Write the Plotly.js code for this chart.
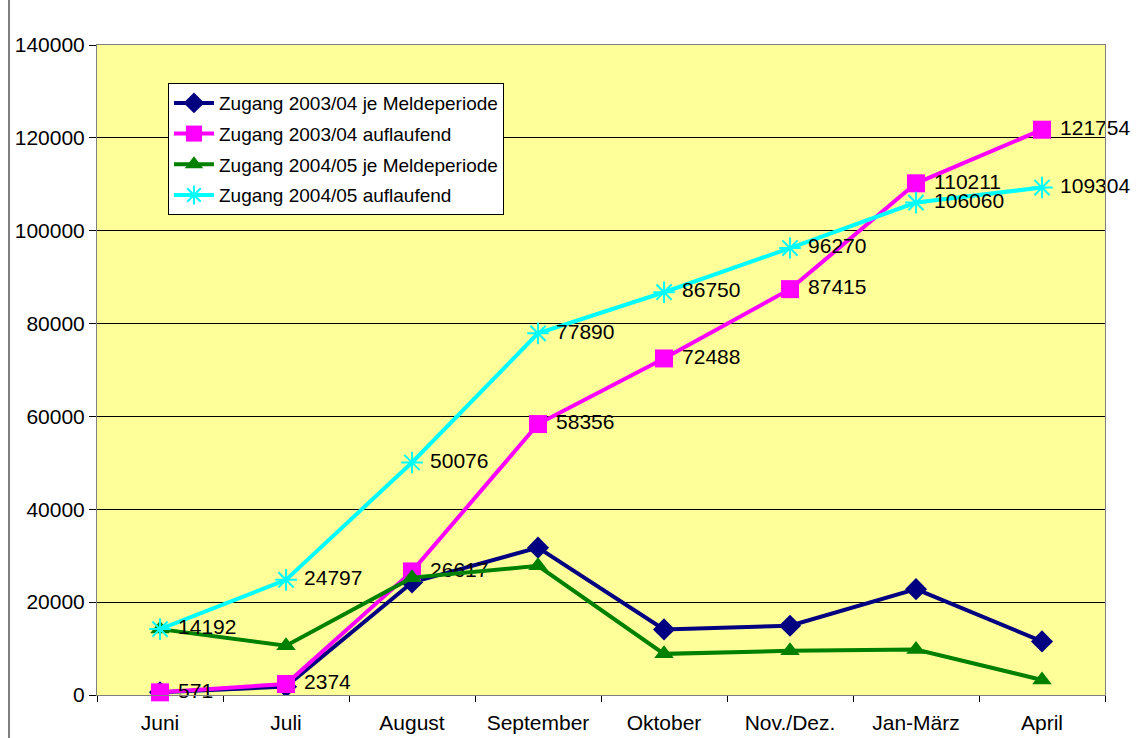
<!DOCTYPE html>
<html>
<head>
<meta charset="utf-8">
<script src="https://cdn.plot.ly/plotly-3.0.1.min.js"></script>
<style>
html,body{margin:0;padding:0;background:#fff;}
#chart{width:1145px;height:738px;}
</style>
</head>
<body>
<div id="chart"></div>
<script>
const categories = ["Juni", "Juli", "August", "September", "Oktober", "Nov./Dez.", "Jan-März", "April"];
const zugang0304Periode = [571, 1803, 24243, 31739, 14132, 14927, 22796, 11543];
const zugang0304Auflaufend = [571, 2374, 26617, 58356, 72488, 87415, 110211, 121754];
const zugang0405Periode = [14192, 10605, 25279, 27814, 8860, 9520, 9790, 3244];
const zugang0405Auflaufend = [14192, 24797, 50076, 77890, 86750, 96270, 106060, 109304];
const seriesNames = ["Zugang 2003/04 je Meldeperiode", "Zugang 2003/04 auflaufend", "Zugang 2004/05 je Meldeperiode", "Zugang 2004/05 auflaufend"];
const yTicks = [0, 20000, 40000, 60000, 80000, 100000, 120000, 140000];

const fontFam = "Liberation Sans, Arial, sans-serif";
const labelFont = {family: fontFam, size: 21, color: "#000"};
const pad = "\u00A0";

const traces = [
  {
    x: categories, y: zugang0304Periode, name: seriesNames[0], legendgroup: "a",
    mode: "lines+markers", type: "scatter",
    line: {color: "#000080", width: 4},
    marker: {symbol: "diamond", size: 17, color: "#000080"}
  },
  {
    x: categories, y: zugang0304Auflaufend, name: seriesNames[1], legendgroup: "b",
    mode: "lines+markers+text", type: "scatter",
    text: zugang0304Auflaufend.map(v => pad + v), textposition: "middle right",
    textfont: labelFont, cliponaxis: false,
    line: {color: "#FF00FF", width: 4},
    marker: {symbol: "square", size: 18, color: "#FF00FF"}
  },
  {
    x: categories, y: zugang0405Periode, name: seriesNames[2], legendgroup: "c",
    mode: "lines+markers", type: "scatter",
    line: {color: "#008000", width: 4},
    marker: {symbol: "triangle-up", size: 17, color: "#008000"}
  },
  {
    x: categories, y: zugang0405Auflaufend, name: seriesNames[3], legendgroup: "d",
    mode: "lines+markers+text", type: "scatter",
    text: zugang0405Auflaufend.map(v => pad + v), textposition: "middle right",
    textfont: labelFont, cliponaxis: false,
    line: {color: "#00FFFF", width: 4},
    marker: {symbol: "asterisk-open", size: 18, color: "#00FFFF", line: {color: "#00FFFF", width: 2}}
  }
];

const layout = {
  width: 1145, height: 738,
  margin: {l: 97, r: 40, t: 45, b: 43, pad: 0},
  paper_bgcolor: "#ffffff",
  plot_bgcolor: "#FFFF99",
  font: {family: fontFam, size: 21, color: "#000"},
  showlegend: true,
  legend: {
    x: 0.0704, y: 0.9415, xanchor: "left", yanchor: "top",
    bgcolor: "#ffffff", bordercolor: "#000000", borderwidth: 1,
    font: {family: fontFam, size: 19, color: "#000"},
    traceorder: "grouped", tracegroupgap: 3, itemwidth: 40
  },
  xaxis: {
    type: "category", range: [-0.5, 7.5],
    showgrid: false, zeroline: false,
    showline: true, linecolor: "#808080", linewidth: 1, mirror: true,
    ticks: "outside", tickson: "boundaries", ticklen: 6, tickcolor: "#000",
    ticklabelstandoff: 9,
    tickfont: {family: fontFam, size: 21, color: "#000"},
    fixedrange: true
  },
  yaxis: {
    range: [0, 140000], tickvals: yTicks, ticktext: yTicks.map(String),
    showgrid: true, gridcolor: "#000000", gridwidth: 1,
    zeroline: false,
    showline: true, linecolor: "#808080", linewidth: 1, mirror: true,
    ticks: "outside", ticklen: 7, tickcolor: "#000",
    tickfont: {family: fontFam, size: 21, color: "#000"},
    fixedrange: true
  },
  shapes: [
    {type: "line", xref: "paper", yref: "paper", x0: -0.0873, x1: -0.0873, y0: -0.2, y1: 1.2,
     line: {color: "#000000", width: 1}}
  ]
};

Plotly.newPlot("chart", traces, layout, {displayModeBar: false, staticPlot: true});
</script>
</body>
</html>
